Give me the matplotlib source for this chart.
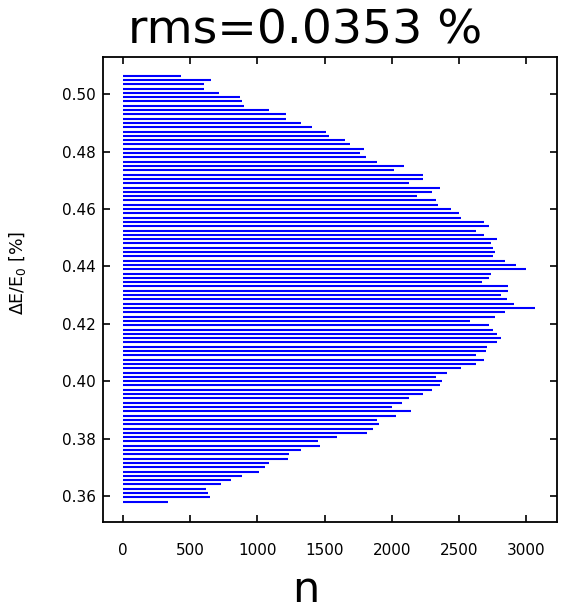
import numpy as np
import matplotlib
matplotlib.use("Agg")
import matplotlib.pyplot as plt

# histogram of dE/E0, counts per bin read top (high) to bottom (low)
bin_top = 0.5065
bin_width = 0.0015
counts = [433, 658, 604, 604, 715, 871, 884, 899, 1085, 1211,
          1211, 1325, 1409, 1508, 1535, 1649, 1691, 1790, 1763, 1805,
          1892, 2088, 2018, 2229, 2229, 2129, 2355, 2300, 2186, 2328,
          2343, 2441, 2499, 2511, 2682, 2724, 2625, 2682, 2781, 2739,
          2754, 2766, 2754, 2838, 2922, 2994, 2739, 2724, 2667, 2865,
          2865, 2808, 2853, 2907, 3063, 2838, 2766, 2583, 2724, 2754,
          2781, 2808, 2781, 2709, 2697, 2625, 2682, 2625, 2511, 2412,
          2328, 2370, 2355, 2300, 2229, 2129, 2073, 2003, 2144, 2030,
          1889, 1904, 1862, 1817, 1592, 1451, 1466, 1325, 1238, 1226,
          1085, 1055, 1013, 886, 802, 730, 617, 632, 646, 334]
title_text = "rms=0.0353 %"
xticks = [0, 500, 1000, 1500, 2000, 2500, 3000]
yticks = [0.36, 0.38, 0.40, 0.42, 0.44, 0.46, 0.48, 0.50]

counts = np.array(counts)
centers = bin_top - bin_width * np.arange(len(counts))

fig = plt.figure(figsize=(5.62, 6.12), dpi=100)
ax = fig.add_axes([0.1827, 0.147, 0.8083, 0.7599])

ax.hlines(centers, 0, counts, color='#0000FF', linewidth=1.5)

ax.set_xlim(-150, 3227)
ax.set_ylim(0.3509, 0.513)
ax.set_xticks(xticks)
ax.set_yticks(yticks)
ax.set_xticklabels([str(t) for t in xticks])
ax.set_yticklabels([f"{t:.2f}" for t in yticks])

ax.tick_params(direction='in', top=True, right=True, length=5, width=1.2,
               labelsize=11, colors='black')
ax.tick_params(axis='x', pad=15)
ax.tick_params(axis='y', pad=5)
for sp in ax.spines.values():
    sp.set_linewidth(1.3)

fig.text(305 / 562, 1 - 8 / 612, title_text, fontsize=34, ha='center', va='top')
ax.set_xlabel('n', fontsize=31)
ax.xaxis.set_label_coords(0.448, -0.1)
ax.set_ylabel(r'$\Delta$E/E$_0$ [%]', fontsize=12.5)
ax.yaxis.set_label_coords(-0.165, 0.535)

fig.savefig('out.png', dpi=100, facecolor='white')
